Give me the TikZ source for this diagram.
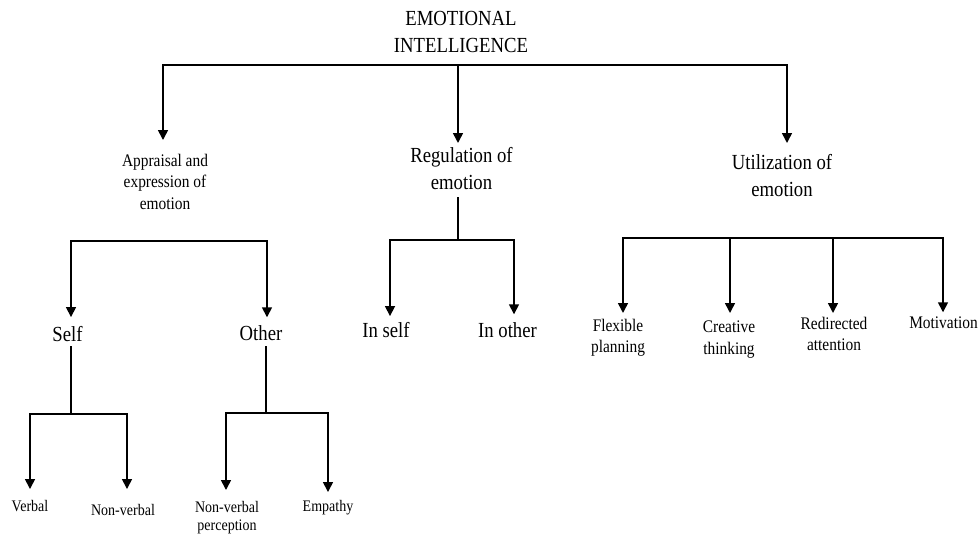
\documentclass[tikz,border=0pt]{standalone}
\usepackage{fontspec}
\setmainfont{Liberation Serif}[FakeStretch=0.87]
\usetikzlibrary{arrows.meta}

\tikzset{
  big/.style={inner sep=0pt, align=center, font=\fontsize{21.5}{27}\selectfont},
  mid/.style={inner sep=0pt, align=center, font=\fontsize{17.7}{21.5}\selectfont},
  small/.style={inner sep=0pt, align=center, font=\fontsize{16.1}{18}\selectfont},
}

\begin{document}
\begin{tikzpicture}[x=1pt,y=-1pt,line width=1.6pt,>={Triangle[length=10pt,width=10pt]}]
\useasboundingbox (0,0) rectangle (980,536);

% labels
\node[big,anchor=north] (ei) at (461,10) {EMOTIONAL\\INTELLIGENCE};
\node[mid,anchor=north] (appr) at (165,153) {Appraisal and\\expression of\\emotion};
\node[big,anchor=north] (reg) at (461.5,146.5) {Regulation of\\emotion};
\node[big,anchor=north] (util) at (782,154) {Utilization of\\emotion};

\node[big,anchor=base] (self) at (67.5,341) {Self};
\node[big,anchor=base] (other) at (261,340) {Other};
\node[big,anchor=base] (inself) at (386,337) {In self};
\node[big,anchor=base] (inother) at (507.5,337) {In other};

\node[small,anchor=base] (verbal) at (30,511.7) {Verbal};
\node[small,anchor=base] (nonverbal) at (123,515) {Non-verbal};
\node[small,anchor=north] (nvperc) at (227,500.5) {Non-verbal\\perception};
\node[small,anchor=base] (empathy) at (328,511.7) {Empathy};

\node[mid,anchor=north] (flex) at (618,318) {Flexible\\planning};
\node[mid,anchor=north] (creat) at (729,320) {Creative\\thinking};
\node[mid,anchor=north] (redir) at (834,316) {Redirected\\attention};
\node[mid,anchor=base] (motiv) at (943.5,328.3) {Motivation};

% branch points
\coordinate (ei-l) at (163,65);
\coordinate (ei-m) at (458,65);
\coordinate (ei-r) at (787,65);
\coordinate (appr-l) at (71,241);
\coordinate (appr-r) at (267,241);
\coordinate (reg-j) at (458,240);
\coordinate (reg-l) at (390,240);
\coordinate (reg-r) at (514,240);
\coordinate (util-1) at (623,238);
\coordinate (util-2) at (730,238);
\coordinate (util-3) at (833,238);
\coordinate (util-4) at (943,238);
\coordinate (self-j) at (71,414);
\coordinate (self-l) at (30,414);
\coordinate (self-r) at (127,414);
\coordinate (other-j) at (266,413);
\coordinate (other-l) at (226,413);
\coordinate (other-r) at (328,413);

% top level
\draw[<->,shorten <=13pt,shorten >=11pt] (ei-l |- appr.north) -- (ei-l) -- (ei-r) -- (ei-r |- util.north);
\draw[->,shorten >=3.5pt] (ei-m) -- (ei-m |- reg.north);

% appraisal
\draw[<->,shorten <=8pt,shorten >=7pt] (appr-l |- self.north) -- (appr-l) -- (appr-r) -- (appr-r |- other.north);
\draw[shorten <=4pt] (self-j |- self.south) -- (self-j);
\draw[<->,shorten <=10.7pt,shorten >=14pt] (self-l |- verbal.north) -- (self-l) -- (self-r) -- (self-r |- nonverbal.north);
\draw[shorten <=5pt] (other-j |- other.south) -- (other-j);
\draw[<->,shorten <=10.5pt,shorten >=7.7pt] (other-l |- nvperc.north) -- (other-l) -- (other-r) -- (other-r |- empathy.north);

% regulation
\draw[shorten <=7pt] (reg-j |- reg.south) -- (reg-j);
\draw[<->,shorten <=5pt,shorten >=7pt] (reg-l |- inself.north) -- (reg-l) -- (reg-r) -- (reg-r |- inother.north);

% utilization
\draw[<->,shorten <=5pt,shorten >=3.5pt] (util-1 |- flex.north) -- (util-1) -- (util-4) -- (util-4 |- motiv.north);
\draw[->,shorten >=7pt] (util-2) -- (util-2 |- creat.north);
\draw[->,shorten >=3pt] (util-3) -- (util-3 |- redir.north);

\end{tikzpicture}
\end{document}
